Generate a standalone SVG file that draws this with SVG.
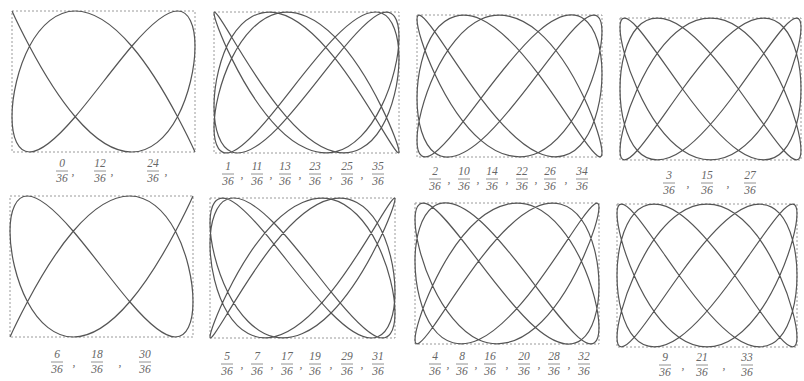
<svg xmlns="http://www.w3.org/2000/svg" width="804" height="381" viewBox="0 0 804 381">
<style>
.cv{fill:none;stroke:#555;stroke-width:1.2;stroke-linejoin:round}
.fr{fill:none;stroke:#8f8f8f;stroke-width:0.9;stroke-dasharray:2 2}
.lb text{font-family:"Liberation Serif","DejaVu Serif",serif;font-style:italic;font-size:11.5px;fill:#666;text-anchor:middle}
.lb line{stroke:#777;stroke-width:0.8}
</style>
<defs>
<path id="c0" class="cv" vector-effect="non-scaling-stroke" d="M -100,100 C -100,100 -93.2,80.2 -80.9,50 C -68.6,19.8 -50.8,-19.8 -30.9,-50 C -11,-80.2 11,-100 30.9,-100 C 50.8,-100 68.6,-80.2 80.9,-50 C 93.2,-19.8 100,19.8 100,50 C 100,80.2 93.2,100 80.9,100 C 68.6,100 50.8,80.2 30.9,50 C 11,19.8 -11,-19.8 -30.9,-50 C -50.8,-80.2 -68.6,-100 -80.9,-100 C -93.2,-100 -100,-80.2 -100,-50 C -100,-19.8 -93.2,19.8 -80.9,50 C -68.6,80.2 -50.8,100 -30.9,100 C -11,100 11,80.2 30.9,50 C 50.8,19.8 68.6,-19.8 80.9,-50 C 93.2,-80.2 100,-100 100,-100"/>
<path id="c1" class="cv" vector-effect="non-scaling-stroke" d="M -100,98.5 C -100,92.4 -93.2,67 -80.9,34.2 C -68.6,1.4 -50.8,-37.5 -30.9,-64.3 C -11,-91 11,-104.5 30.9,-98.5 C 50.8,-92.4 68.6,-67 80.9,-34.2 C 93.2,-1.4 100,37.5 100,64.3 C 100,91 93.2,104.5 80.9,98.5 C 68.6,92.4 50.8,67 30.9,34.2 C 11,1.4 -11,-37.5 -30.9,-64.3 C -50.8,-91 -68.6,-104.5 -80.9,-98.5 C -93.2,-92.4 -100,-67 -100,-34.2 C -100,-1.4 -93.2,37.5 -80.9,64.3 C -68.6,91 -50.8,104.5 -30.9,98.5 C -11,92.4 11,67 30.9,34.2 C 50.8,1.4 68.6,-37.5 80.9,-64.3 C 93.2,-91 100,-104.5 100,-98.5 C 100,-92.4 93.2,-67 80.9,-34.2 C 68.6,-1.4 50.8,37.5 30.9,64.3 C 11,91 -11,104.5 -30.9,98.5 C -50.8,92.4 -68.6,67 -80.9,34.2 C -93.2,1.4 -100,-37.5 -100,-64.3 C -100,-91 -93.2,-104.5 -80.9,-98.5 C -68.6,-92.4 -50.8,-67 -30.9,-34.2 C -11,-1.4 11,37.5 30.9,64.3 C 50.8,91 68.6,104.5 80.9,98.5 C 93.2,92.4 100,67 100,34.2 C 100,1.4 93.2,-37.5 80.9,-64.3 C 68.6,-91 50.8,-104.5 30.9,-98.5 C 11,-92.4 -11,-67 -30.9,-34.2 C -50.8,-1.4 -68.6,37.5 -80.9,64.3 C -93.2,91 -100,104.5 -100,98.5 Z"/>
<path id="c2" class="cv" vector-effect="non-scaling-stroke" d="M -100,94 C -100,82 -93.2,51.7 -80.9,17.4 C -68.6,-17 -50.8,-54.2 -30.9,-76.6 C -11,-99 11,-105.9 30.9,-94 C 50.8,-82 68.6,-51.7 80.9,-17.4 C 93.2,17 100,54.2 100,76.6 C 100,99 93.2,105.9 80.9,94 C 68.6,82 50.8,51.7 30.9,17.4 C 11,-17 -11,-54.2 -30.9,-76.6 C -50.8,-99 -68.6,-105.9 -80.9,-94 C -93.2,-82 -100,-51.7 -100,-17.4 C -100,17 -93.2,54.2 -80.9,76.6 C -68.6,99 -50.8,105.9 -30.9,94 C -11,82 11,51.7 30.9,17.4 C 50.8,-17 68.6,-54.2 80.9,-76.6 C 93.2,-99 100,-105.9 100,-94 C 100,-82 93.2,-51.7 80.9,-17.4 C 68.6,17 50.8,54.2 30.9,76.6 C 11,99 -11,105.9 -30.9,94 C -50.8,82 -68.6,51.7 -80.9,17.4 C -93.2,-17 -100,-54.2 -100,-76.6 C -100,-99 -93.2,-105.9 -80.9,-94 C -68.6,-82 -50.8,-51.7 -30.9,-17.4 C -11,17 11,54.2 30.9,76.6 C 50.8,99 68.6,105.9 80.9,94 C 93.2,82 100,51.7 100,17.4 C 100,-17 93.2,-54.2 80.9,-76.6 C 68.6,-99 50.8,-105.9 30.9,-94 C 11,-82 -11,-51.7 -30.9,-17.4 C -50.8,17 -68.6,54.2 -80.9,76.6 C -93.2,99 -100,105.9 -100,94 Z"/>
<path id="c3" class="cv" vector-effect="non-scaling-stroke" d="M -100,86.6 C -100,69.2 -93.2,34.9 -80.9,0 C -68.6,-34.9 -50.8,-69.2 -30.9,-86.6 C -11,-104.1 11,-104.1 30.9,-86.6 C 50.8,-69.2 68.6,-34.9 80.9,0 C 93.2,34.9 100,69.2 100,86.6 C 100,104.1 93.2,104.1 80.9,86.6 C 68.6,69.2 50.8,34.9 30.9,0 C 11,-34.9 -11,-69.2 -30.9,-86.6 C -50.8,-104.1 -68.6,-104.1 -80.9,-86.6 C -93.2,-69.2 -100,-34.9 -100,0 C -100,34.9 -93.2,69.2 -80.9,86.6 C -68.6,104.1 -50.8,104.1 -30.9,86.6 C -11,69.2 11,34.9 30.9,0 C 50.8,-34.9 68.6,-69.2 80.9,-86.6 C 93.2,-104.1 100,-104.1 100,-86.6 C 100,-69.2 93.2,-34.9 80.9,0 C 68.6,34.9 50.8,69.2 30.9,86.6 C 11,104.1 -11,104.1 -30.9,86.6 C -50.8,69.2 -68.6,34.9 -80.9,0 C -93.2,-34.9 -100,-69.2 -100,-86.6 C -100,-104.1 -93.2,-104.1 -80.9,-86.6 C -68.6,-69.2 -50.8,-34.9 -30.9,0 C -11,34.9 11,69.2 30.9,86.6 C 50.8,104.1 68.6,104.1 80.9,86.6 C 93.2,69.2 100,34.9 100,0 C 100,-34.9 93.2,-69.2 80.9,-86.6 C 68.6,-104.1 50.8,-104.1 30.9,-86.6 C 11,-69.2 -11,-34.9 -30.9,0 C -50.8,34.9 -68.6,69.2 -80.9,86.6 C -93.2,104.1 -100,104.1 -100,86.6 Z"/>
</defs>
<rect width="804" height="381" fill="#fff"/>

<g id="fig1">
<rect class="fr" x="12" y="11" width="183" height="141"/>
<use href="#c0" transform="translate(103.5 81.5) scale(0.915 -0.705)"/>
<g class="lb" transform="translate(0 167)">
<g transform="translate(62 0)"><text>0</text><line x1="-6" x2="6" y1="4" y2="4"/><text y="15">36</text></g><text x="73" y="8">,</text>
<g transform="translate(100 0)"><text>12</text><line x1="-6" x2="6" y1="4" y2="4"/><text y="15">36</text></g><text x="112" y="8">,</text>
<g transform="translate(153 0)"><text>24</text><line x1="-6" x2="6" y1="4" y2="4"/><text y="15">36</text></g><text x="166" y="8">,</text>
</g>
</g>

<g id="fig2">
<rect class="fr" x="214" y="12" width="185" height="141"/>
<use href="#c1" transform="translate(306.5 82.5) scale(0.925 -0.705)"/>
<g class="lb" transform="translate(0 170)">
<g transform="translate(228 0)"><text>1</text><line x1="-6" x2="6" y1="4" y2="4"/><text y="15">36</text></g><text x="242" y="8">,</text>
<g transform="translate(257 0)"><text>11</text><line x1="-6" x2="6" y1="4" y2="4"/><text y="15">36</text></g><text x="271" y="8">,</text>
<g transform="translate(285 0)"><text>13</text><line x1="-6" x2="6" y1="4" y2="4"/><text y="15">36</text></g><text x="300" y="8">,</text>
<g transform="translate(315 0)"><text>23</text><line x1="-6" x2="6" y1="4" y2="4"/><text y="15">36</text></g><text x="331" y="8">,</text>
<g transform="translate(347 0)"><text>25</text><line x1="-6" x2="6" y1="4" y2="4"/><text y="15">36</text></g><text x="362" y="8">,</text>
<g transform="translate(378 0)"><text>35</text><line x1="-6" x2="6" y1="4" y2="4"/><text y="15">36</text></g>
</g>
</g>

<g id="fig3">
<rect class="fr" x="417" y="15" width="185" height="142"/>
<use href="#c2" transform="translate(509.5 86) scale(0.925 -0.71)"/>
<g class="lb" transform="translate(0 175)">
<g transform="translate(435 0)"><text>2</text><line x1="-6" x2="6" y1="4" y2="4"/><text y="15">36</text></g><text x="449" y="8">,</text>
<g transform="translate(464 0)"><text>10</text><line x1="-6" x2="6" y1="4" y2="4"/><text y="15">36</text></g><text x="478" y="8">,</text>
<g transform="translate(492 0)"><text>14</text><line x1="-6" x2="6" y1="4" y2="4"/><text y="15">36</text></g><text x="507" y="8">,</text>
<g transform="translate(522 0)"><text>22</text><line x1="-6" x2="6" y1="4" y2="4"/><text y="15">36</text></g><text x="536" y="8">,</text>
<g transform="translate(550 0)"><text>26</text><line x1="-6" x2="6" y1="4" y2="4"/><text y="15">36</text></g><text x="566" y="8">,</text>
<g transform="translate(582 0)"><text>34</text><line x1="-6" x2="6" y1="4" y2="4"/><text y="15">36</text></g>
</g>
</g>

<g id="fig4">
<rect class="fr" x="620" y="18" width="181" height="142"/>
<use href="#c3" transform="translate(710.5 89) scale(0.905 -0.71)"/>
<g class="lb" transform="translate(0 179)">
<g transform="translate(669 0)"><text>3</text><line x1="-6" x2="6" y1="4" y2="4"/><text y="15">36</text></g><text x="688" y="8">,</text>
<g transform="translate(707 0)"><text>15</text><line x1="-6" x2="6" y1="4" y2="4"/><text y="15">36</text></g><text x="728" y="8">,</text>
<g transform="translate(750 0)"><text>27</text><line x1="-6" x2="6" y1="4" y2="4"/><text y="15">36</text></g>
</g>
</g>

<g id="fig5">
<rect class="fr" x="10" y="196" width="183" height="141"/>
<use href="#c0" transform="translate(101.5 266.5) scale(-0.915 -0.705)"/>
<g class="lb" transform="translate(0 358)">
<g transform="translate(57 0)"><text>6</text><line x1="-6" x2="6" y1="4" y2="4"/><text y="15">36</text></g><text x="74" y="8">,</text>
<g transform="translate(97 0)"><text>18</text><line x1="-6" x2="6" y1="4" y2="4"/><text y="15">36</text></g><text x="120" y="8">,</text>
<g transform="translate(145 0)"><text>30</text><line x1="-6" x2="6" y1="4" y2="4"/><text y="15">36</text></g>
</g>
</g>

<g id="fig6">
<rect class="fr" x="210" y="198" width="185" height="140"/>
<use href="#c1" transform="translate(302.5 268) scale(-0.925 -0.70)"/>
<g class="lb" transform="translate(0 360)">
<g transform="translate(227 0)"><text>5</text><line x1="-6" x2="6" y1="4" y2="4"/><text y="15">36</text></g><text x="242" y="8">,</text>
<g transform="translate(257 0)"><text>7</text><line x1="-6" x2="6" y1="4" y2="4"/><text y="15">36</text></g><text x="272" y="8">,</text>
<g transform="translate(287 0)"><text>17</text><line x1="-6" x2="6" y1="4" y2="4"/><text y="15">36</text></g><text x="301" y="8">,</text>
<g transform="translate(315 0)"><text>19</text><line x1="-6" x2="6" y1="4" y2="4"/><text y="15">36</text></g><text x="331" y="8">,</text>
<g transform="translate(347 0)"><text>29</text><line x1="-6" x2="6" y1="4" y2="4"/><text y="15">36</text></g><text x="362" y="8">,</text>
<g transform="translate(378 0)"><text>31</text><line x1="-6" x2="6" y1="4" y2="4"/><text y="15">36</text></g>
</g>
</g>

<g id="fig7">
<rect class="fr" x="415" y="203" width="184" height="141"/>
<use href="#c2" transform="translate(507 273.5) scale(-0.92 -0.705)"/>
<g class="lb" transform="translate(0 360)">
<g transform="translate(435 0)"><text>4</text><line x1="-6" x2="6" y1="4" y2="4"/><text y="15">36</text></g><text x="448" y="8">,</text>
<g transform="translate(462 0)"><text>8</text><line x1="-6" x2="6" y1="4" y2="4"/><text y="15">36</text></g><text x="476" y="8">,</text>
<g transform="translate(490 0)"><text>16</text><line x1="-6" x2="6" y1="4" y2="4"/><text y="15">36</text></g><text x="507" y="8">,</text>
<g transform="translate(524 0)"><text>20</text><line x1="-6" x2="6" y1="4" y2="4"/><text y="15">36</text></g><text x="539" y="8">,</text>
<g transform="translate(554 0)"><text>28</text><line x1="-6" x2="6" y1="4" y2="4"/><text y="15">36</text></g><text x="569" y="8">,</text>
<g transform="translate(584 0)"><text>32</text><line x1="-6" x2="6" y1="4" y2="4"/><text y="15">36</text></g>
</g>
</g>

<g id="fig8">
<rect class="fr" x="617" y="204" width="180" height="143"/>
<use href="#c3" transform="translate(707 275.5) scale(-0.90 -0.715)"/>
<g class="lb" transform="translate(0 361)">
<g transform="translate(665 0)"><text>9</text><line x1="-6" x2="6" y1="4" y2="4"/><text y="15">36</text></g><text x="683" y="8">,</text>
<g transform="translate(702 0)"><text>21</text><line x1="-6" x2="6" y1="4" y2="4"/><text y="15">36</text></g><text x="724" y="8">,</text>
<g transform="translate(747 0)"><text>33</text><line x1="-6" x2="6" y1="4" y2="4"/><text y="15">36</text></g>
</g>
</g>
</svg>
